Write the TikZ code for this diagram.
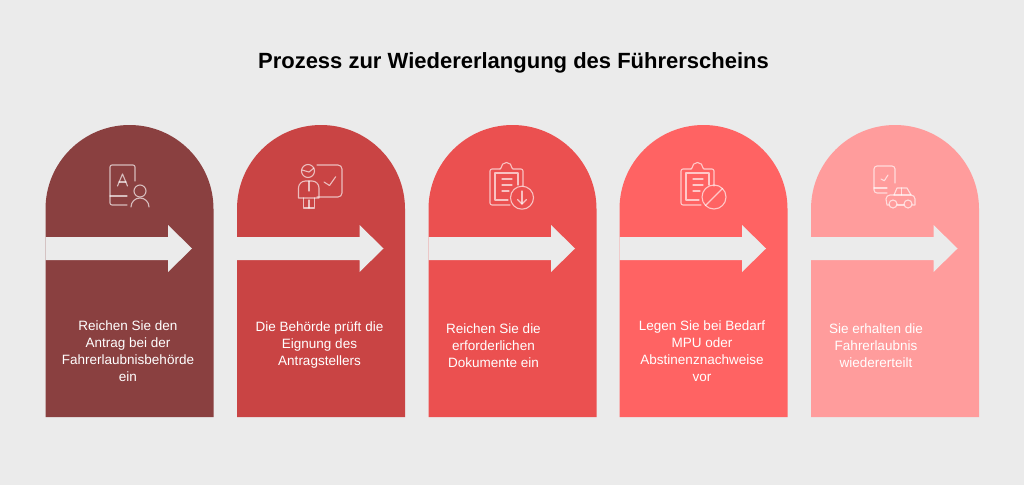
\documentclass[tikz,border=0pt]{standalone}
\usepackage{fontspec}
\setmainfont{Liberation Sans}
\definecolor{pagegrey}{HTML}{EBEBEB}
\definecolor{stepA}{HTML}{8A4040}
\definecolor{stepB}{HTML}{C94444}
\definecolor{stepC}{HTML}{EB5050}
\definecolor{stepD}{HTML}{FF6363}
\definecolor{stepE}{HTML}{FF9C9C}
\tikzset{
	cardtext/.style={text=white,align=center,font=\fontsize{13.5}{17}\selectfont,inner sep=0pt},
	icon/.style={draw=white,draw opacity=.65,line width=1.1pt,line cap=round,line join=round}
}
% arch shaped card with the arrow cut through it, #1 = left edge, #2 = colour
\newcommand{\stepcard}[2]{
	\fill[#2](#1,417)--(#1,209) arc[start angle=180,end angle=360,radius=84]--(#1+168,417)--cycle;
	\fill[pagegrey](#1,237)--(#1+122.5,237)--(#1+122.5,225)--(#1+146.5,248.5)--(#1+122.5,272)--(#1+122.5,260)--(#1,260)--cycle;
}
% clipboard with sheet, #1 = shift in x
\newcommand{\clipicon}[1]{
	\draw[icon](#1+510,205)--(#1+492,205) arc[start angle=90,end angle=180,radius=2]--(#1+490,171) arc[start angle=180,end angle=270,radius=2]--(#1+500,169);
	\draw[icon](#1+500,169)--(#1+501,168) arc[start angle=180,end angle=360,radius=5.5]--(#1+513,169)--(#1+521,169) arc[start angle=270,end angle=360,radius=2]--(#1+523,186);
	\draw[icon](#1+508,200)--(#1+495,200)--(#1+495,173)--(#1+518,173)--(#1+518,185);
	\draw[icon](#1+502,179)--(#1+512,179);
	\draw[icon](#1+502,185)--(#1+512,185);
	\draw[icon](#1+502,191)--(#1+509,191);
}
\begin{document}
\begin{tikzpicture}[x=1pt,y=-1pt]
	\useasboundingbox (0,0) rectangle (1024,485);
	\fill[pagegrey](0,0)rectangle(1024,485);

	\node[font=\fontsize{22}{26}\selectfont\bfseries,text=black,inner sep=0pt] (title) at (513.5,62.5){Prozess zur Wiedererlangung des Führerscheins};

	\stepcard{45.5}{stepA}
	\stepcard{237}{stepB}
	\stepcard{428.5}{stepC}
	\stepcard{619.5}{stepD}
	\stepcard{811}{stepE}

	\node[cardtext] (antrag) at (128,351){Reichen Sie den\\Antrag bei der\\Fahrerlaubnisbehörde\\ein};
	\node[cardtext] (pruefung) at (319.5,345.5){Die Behörde prüft die\\Eignung des\\Antragstellers};
	\node[cardtext] (dokumente) at (493.5,345.5){Reichen Sie die\\erforderlichen\\Dokumente ein};
	\node[cardtext] (nachweise) at (702,351){Legen Sie bei Bedarf\\MPU oder\\Abstinenznachweise\\vor};
	\node[cardtext] (erteilt) at (876,345.5){Sie erhalten die\\Fahrerlaubnis\\wiedererteilt};

	% icon 1, form and person
	\draw[icon](127,205)--(112,205) arc[start angle=90,end angle=180,radius=2]--(110,167) arc[start angle=180,end angle=270,radius=2]--(133,165) arc[start angle=270,end angle=360,radius=2]--(135,181);
	\draw[icon](110,196)--(127,196);
	\draw[icon](117.5,186)--(122.5,174)--(127.5,186);
	\draw[icon](119,182)--(126,182);
	\draw[icon](140,191)circle[radius=6];
	\draw[icon](131,207) arc[start angle=180,end angle=360,radius=9];

	% icon 2, person at board
	\draw[icon](317,165)--(338,165) arc[start angle=270,end angle=360,radius=4]--(342,193) arc[start angle=0,end angle=90,radius=4]--(317,197);
	\draw[icon](324,182)--(329.5,185.5)--(335.7,176.7);
	\draw[icon](308,171)circle[radius=6.5];
	\draw[icon](302,170)--(309,172)--(314,168);
	\draw[icon](298.5,198)--(298.5,188) arc[start angle=180,end angle=270,radius=7]--(312,181) arc[start angle=270,end angle=360,radius=7]--(319,198)--cycle;
	\draw[icon](303.5,198)--(303.5,208)--(314.5,208)--(314.5,198);
	\draw[icon](309,181)--(309,191);
	\draw[icon](309,200)--(309,208);

	% icon 3, clipboard with download
	\clipicon{0}
	\draw[icon](522,197.7)circle[radius=11.5];
	\draw[icon](522,191)--(522,204);
	\draw[icon](517.5,199.5)--(522,204)--(526.5,199.5);

	% icon 4, clipboard with prohibition sign
	\clipicon{191}
	\draw[icon](714,197)circle[radius=12];
	\draw[icon](705.5,205.5)--(722.5,188.5);

	% icon 5, licence and car
	\draw[icon](887,193)--(877,193) arc[start angle=90,end angle=180,radius=3]--(874,169) arc[start angle=180,end angle=270,radius=3]--(892,166) arc[start angle=270,end angle=360,radius=3]--(895,183);
	\draw[icon](874,188)--(887,188);
	\draw[icon](881,179)--(884.3,180.7)--(888,175);
	\draw[icon](889,205)--(887,205)--(886,199) arc[start angle=180,end angle=270,radius=4]--(894,195)--(897,188)--(907,188)--(911,195) arc[start angle=270,end angle=360,radius=4]--(915,205)--(912,205);
	\draw[icon](897,205)--(904,205);
	\draw[icon](894,195)--(911,195);
	\draw[icon](901.5,188)--(901.5,195);
	\draw[icon](893,204)circle[radius=4];
	\draw[icon](908,204)circle[radius=4];
\end{tikzpicture}
\end{document}
